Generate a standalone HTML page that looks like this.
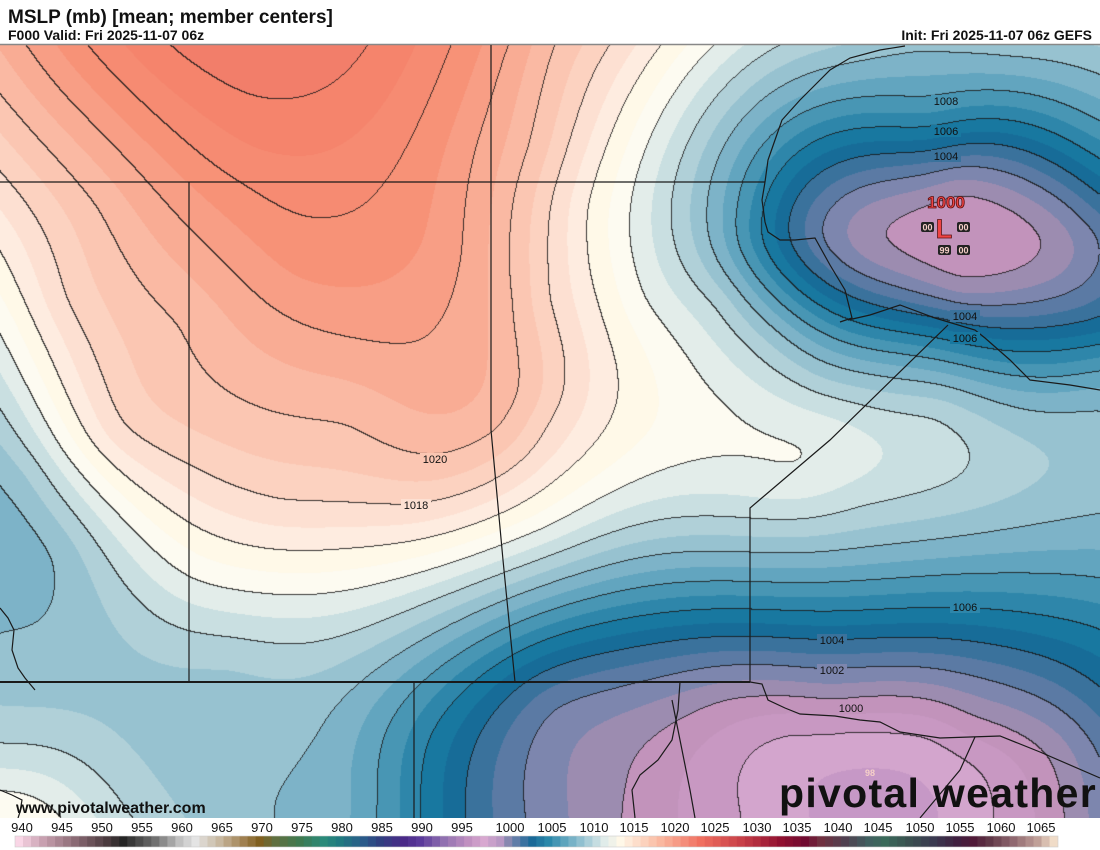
<!DOCTYPE html>
<html><head><meta charset="utf-8">
<style>
html,body{margin:0;padding:0;background:#fff;}
#wrap{position:relative;width:1100px;height:850px;overflow:hidden;background:#fff;font-family:"Liberation Sans",sans-serif;}
#cv{position:absolute;left:0;top:45px;}
#ov{position:absolute;left:0;top:0;}
</style></head><body>
<div id="wrap">
<canvas id="cv" width="1100" height="773"></canvas>
<svg id="ov" width="1100" height="850" xmlns="http://www.w3.org/2000/svg" font-family="Liberation Sans, sans-serif">
<rect x="0" y="0" width="1100" height="44" fill="#fff"/>
<text x="8" y="23" font-size="19" font-weight="bold" fill="#111">MSLP (mb) [mean; member centers]</text>
<text x="8" y="40" font-size="14" font-weight="bold" fill="#111">F000 Valid: Fri 2025-11-07 06z</text>
<text x="1092" y="40" font-size="14" font-weight="bold" fill="#111" text-anchor="end">Init: Fri 2025-11-07 06z GEFS</text>
<line x1="0" y1="44.5" x2="1100" y2="44.5" stroke="#888" stroke-width="1.5"/>
<g fill="none" stroke="#1a1a1a" stroke-width="1.2">
<polyline points="0,182 765,182"/>
<polyline points="189,182 189,682"/>
<polyline points="491,45 491,430 503,560 515,682"/>
<polyline points="0,682 750,682" stroke-width="2"/>
<polyline points="750,682 750,508 830,440 948,325"/>
<polyline points="414,682 414,818"/>
<polyline points="765,182 768,160 775,140 782,120 800,100 815,85 830,70 850,58 880,50 905,46"/>
<polyline points="765,182 762,200 765,222 768,232 780,240 795,240 815,238 830,265 845,290 852,318 840,322"/>
<polyline points="848,320 870,315 900,305 935,318 975,330 985,338 1010,360 1030,380 1070,385 1100,390"/>
<polyline points="750,682 762,684 768,700 785,708 800,714 835,716 860,720 880,722 900,732 940,738 970,737 1000,736 1040,752 1100,778"/>
<polyline points="975,737 960,770 935,800 920,818"/>
<polyline points="680,682 678,710 672,740 658,760 640,775 632,790 635,818"/>
<polyline points="672,700 680,740 690,790 695,818"/>
<polyline points="0,608 8,618 14,630 12,650 18,668 25,678 35,690"/>
<polyline points="0,790 12,795 22,800 20,812 18,818"/>
</g>
<g id="labels" font-size="11" text-anchor="middle" fill="#111">
<g><rect x="931" y="95" width="30" height="12"/><text x="946" y="105">1008</text></g>
<g><rect x="931" y="125" width="30" height="12"/><text x="946" y="135">1006</text></g>
<g><rect x="931" y="150" width="30" height="12"/><text x="946" y="160">1004</text></g>
<g><rect x="950" y="310" width="30" height="12"/><text x="965" y="320">1004</text></g>
<g><rect x="950" y="332" width="30" height="12"/><text x="965" y="342">1006</text></g>
<g><rect x="420" y="453" width="30" height="12"/><text x="435" y="463">1020</text></g>
<g><rect x="401" y="499" width="30" height="12"/><text x="416" y="509">1018</text></g>
<g><rect x="950" y="601" width="30" height="12"/><text x="965" y="611">1006</text></g>
<g><rect x="817" y="634" width="30" height="12"/><text x="832" y="644">1004</text></g>
<g><rect x="817" y="664" width="30" height="12"/><text x="832" y="674">1002</text></g>
<g><rect x="836" y="702" width="30" height="12"/><text x="851" y="712">1000</text></g>
</g>
<g font-weight="bold">
<text x="946" y="208" font-size="17" text-anchor="middle" fill="#ee4444" stroke="#5a1010" stroke-width="0.8">1000</text>
<text x="944" y="238" font-size="27" text-anchor="middle" fill="#ee4444" stroke="#5a1010" stroke-width="0.8">L</text>
<g font-size="9" text-anchor="middle">
<rect x="921" y="222" width="13" height="10" fill="#222" rx="2"/><text x="927.5" y="230.5" fill="#f6d0c8">00</text>
<rect x="957" y="222" width="13" height="10" fill="#222" rx="2"/><text x="963.5" y="230.5" fill="#f6d0c8">00</text>
<rect x="938" y="245" width="13" height="10" fill="#222" rx="2"/><text x="944.5" y="253.5" fill="#f6d0c8">99</text>
<rect x="957" y="245" width="13" height="10" fill="#222" rx="2"/><text x="963.5" y="253.5" fill="#f6d0c8">00</text>
<text x="870" y="776" fill="#f6d0c8">98</text>
</g>
</g>
<text x="16" y="813" font-size="16" font-weight="bold" fill="#111">www.pivotalweather.com</text>
<text x="779" y="807" font-size="41" font-weight="bold" fill="#111" letter-spacing="1.3">pivotal weather</text>
<rect x="0" y="818" width="1100" height="32" fill="#fff"/>
<g id="cbar"></g>
<g font-size="13" fill="#111" text-anchor="middle" id="cbl">
<text x="22" y="832">940</text><text x="62" y="832">945</text><text x="102" y="832">950</text><text x="142" y="832">955</text><text x="182" y="832">960</text><text x="222" y="832">965</text><text x="262" y="832">970</text><text x="302" y="832">975</text><text x="342" y="832">980</text><text x="382" y="832">985</text><text x="422" y="832">990</text><text x="462" y="832">995</text><text x="510" y="832">1000</text><text x="552" y="832">1005</text><text x="594" y="832">1010</text><text x="634" y="832">1015</text><text x="675" y="832">1020</text><text x="715" y="832">1025</text><text x="757" y="832">1030</text><text x="797" y="832">1035</text><text x="838" y="832">1040</text><text x="878" y="832">1045</text><text x="920" y="832">1050</text><text x="960" y="832">1055</text><text x="1001" y="832">1060</text><text x="1041" y="832">1065</text>
</g>
</svg>
</div>
<script>
(function(){
var P=[
[0,45,1021],[25,45,1022],[86,45,1024],[167,45,1026],[260,45,1026.8],[368,45,1026],[451,45,1024],[511,45,1022],[549,45,1020],[611,45,1018],[661,45,1016],[713,45,1014],[778,45,1012],[850,45,1011],[917,45,1010],[1010,50,1010.4],[1100,50,1010.7],[1100,78,1010],
[281,97,1026],[260,70,1026.5],[340,78,1026],[326,212,1024],[246,182,1024],[379,185,1024],[420,120,1024],
[386,343,1022],[189,228,1022],[100,130,1022],[474,145,1022],[432,322,1022],
[400,270,1023],[300,260,1023.5],[250,150,1025],[450,250,1022.5],[350,380,1021],
[351,415,1020],[189,318,1020],[100,205,1020],[0,95,1020],[505,430,1020],[526,395,1020],[533,145,1020],[520,300,1020],[435,458,1020],
[0,172,1018],[60,300,1018],[116,430,1018],[189,463,1018],[281,502,1018],[416,505,1018],[500,475,1018],[540,420,1018],[540,300,1018],[550,205,1018],
[0,248,1016],[60,380,1016],[189,523,1016],[351,547,1016],[550,482,1016],[603,430,1016],[600,300,1016],[585,205,1016],
[0,327,1014],[60,450,1014],[189,580,1014],[351,590,1014],[550,527,1014],[796,477,1014],[830,440,1014],[700,380,1014],[640,300,1014],[631,205,1014],
[0,405,1012],[189,632,1012],[550,555,1012],[859,502,1012],[900,497,1012],[971,455,1012],[940,410,1012],[720,300,1012],[671,205,1012],
[900,455,1012.8],[820,380,1011],[30,470,1011],
[0,490,1010],[60,555,1010],[0,612,1010],[25,555,1009.4],[323,740,1010],[253,815,1010],[550,583,1010],[900,543,1010],[1100,512,1010],[1100,403,1010],[900,380,1010],[780,330,1010],[708,205,1010],
[150,700,1010.6],[230,660,1011],[120,760,1011.3],[0,660,1010.3],
[382,740,1008],[550,610,1008],[900,578,1008],[1100,578,1008],[1100,365,1008],[900,352,1008],[741,205,1008],[927,102,1008],[1100,123,1008],
[426,740,1006],[550,638,1006],[965,607,1006],[1100,627,1006],[758,240,1006],[927,130,1006],[940,337,1006],[1100,162,1006],[1100,345,1006],
[477,740,1004],[550,668,1004],[832,640,1004],[1100,690,1004],[787,237,1004],[927,156,1004],[945,314,1004],[1100,200,1004],[1100,322,1004],
[550,703,1002],[818,670,1002],[1100,760,1002],[817,237,1002],[940,170,1002],[950,302,1002],[1100,237,1001.8],
[866,237,1000],[1050,237,1000],[958,183,1000],[958,290,1000],[958,237,999.3],
[632,787,1000],[673,723,1000],[726,697,1000],[838,707,1000],[971,723,1000],[1052,750,1000],[1069,815,1000],
[753,815,998],[757,745,998],[790,727,998],[850,722,998],[930,730,998],[983,763,998],[987,815,998],[870,800,996.8],
[570,790,1001],[1100,815,1001.8],
[0,707,1011],[0,753,1012],[0,785,1014],[30,815,1015],[126,815,1012],[350,815,1009.3],[420,815,1006],[477,815,1003.5]
];
var S=100,n=P.length,N=n+3,lam=0.3,i,j,k;
function U(r){return r>0?r*r*Math.log(r):0;}
var A=[];
for(i=0;i<N;i++){A.push(new Float64Array(N+1));}
for(i=0;i<n;i++){
 for(j=0;j<n;j++){var dx=(P[i][0]-P[j][0])/S,dy=(P[i][1]-P[j][1])/S;A[i][j]=U(Math.sqrt(dx*dx+dy*dy))+(i==j?lam:0);}
 A[i][n]=1;A[i][n+1]=P[i][0]/S;A[i][n+2]=P[i][1]/S;
 A[n][i]=1;A[n+1][i]=P[i][0]/S;A[n+2][i]=P[i][1]/S;
 A[i][N]=P[i][2];
}
for(k=0;k<N;k++){var m=k,mv=Math.abs(A[k][k]);for(i=k+1;i<N;i++){if(Math.abs(A[i][k])>mv){mv=Math.abs(A[i][k]);m=i;}}
 var t=A[k];A[k]=A[m];A[m]=t;
 for(i=k+1;i<N;i++){var f=A[i][k]/A[k][k];if(f!==0){for(j=k;j<=N;j++)A[i][j]-=f*A[k][j];}}}
var w=new Float64Array(N);
for(i=N-1;i>=0;i--){var s=A[i][N];for(j=i+1;j<N;j++)s-=A[i][j]*w[j];w[i]=s/A[i][i];}
function F(x,y){var s=w[n]+w[n+1]*x/S+w[n+2]*y/S;for(var q=0;q<n;q++){var dx=(x-P[q][0])/S,dy=(y-P[q][1])/S;var r2=dx*dx+dy*dy;if(r2>0)s+=w[q]*0.5*r2*Math.log(r2);}return s;}
var pal={995:"#b88ac0",996:"#c698c6",997:"#d3a5cd",998:"#c898c2",999:"#c293bb",1000:"#9c8cb0",1001:"#7d86ae",1002:"#5b7aa4",1003:"#3a729c",1004:"#176c98",1005:"#1878a0",1006:"#2e86aa",1007:"#4896b4",1008:"#62a5bf",1009:"#7db3c8",1010:"#97c2d0",1011:"#b0d0d8",1012:"#c9dfe1",1013:"#e3edea",1014:"#fdfbf1",1015:"#fff9e8",1016:"#feece0",1017:"#fde0d2",1018:"#fcd2c0",1019:"#fbc6b2",1020:"#fab9a3",1021:"#f9ac94",1022:"#f89e85",1023:"#f79277",1024:"#f68b72",1025:"#f5846c",1026:"#f27e6a"};
function col(v){var b=Math.floor(v);if(b<995)b=995;if(b>1026)b=1026;return pal[b];}
function rgb(h){return [parseInt(h.substr(1,2),16),parseInt(h.substr(3,2),16),parseInt(h.substr(5,2),16)];}
var prgb={};for(var key in pal)prgb[key]=rgb(pal[key]);
var W=1100,H=773,st=4,gx=Math.ceil(W/st)+2,gy=Math.ceil(H/st)+2;
var G=new Float64Array(gx*gy);
for(j=0;j<gy;j++)for(i=0;i<gx;i++)G[j*gx+i]=F(i*st,45+j*st);
var V=new Float32Array(W*H);
for(var y=0;y<H;y++){var fy=y/st,j0=Math.floor(fy),ty=fy-j0;
 for(var x=0;x<W;x++){var fx=x/st,i0=Math.floor(fx),tx=fx-i0;
  var a=G[j0*gx+i0],b=G[j0*gx+i0+1],c=G[(j0+1)*gx+i0],d=G[(j0+1)*gx+i0+1];
  V[y*W+x]=(a*(1-tx)+b*tx)*(1-ty)+(c*(1-tx)+d*tx)*ty;}}
var cv=document.getElementById('cv'),ctx=cv.getContext('2d'),img=ctx.createImageData(W,H),D=img.data;
for(var p=0;p<W*H;p++){var v=V[p],bb=Math.floor(v);if(bb<995)bb=995;if(bb>1026)bb=1026;var cc=prgb[bb];
 var x2=p%W,y2=(p-x2)/W,kk=Math.floor(v/2),line=false;
 if(x2<W-1&&Math.floor(V[p+1]/2)!=kk)line=true;
 if(y2<H-1&&Math.floor(V[p+W]/2)!=kk)line=true;
 var o=p*4;
 if(line){D[o]=cc[0]*0.15+20;D[o+1]=cc[1]*0.15+20;D[o+2]=cc[2]*0.15+20;}
 else{D[o]=cc[0];D[o+1]=cc[1];D[o+2]=cc[2];}
 D[o+3]=255;}
ctx.putImageData(img,0,0);
var rects=document.querySelectorAll('#labels rect');
for(i=0;i<rects.length;i++){var r=rects[i];var lx=+r.getAttribute('x')+15,ly=+r.getAttribute('y')+6;
 var vv=V[Math.min(H-1,Math.max(0,Math.round(ly-45)))*W+Math.round(lx)];r.setAttribute('fill',col(vv));}
var stops=[[940,"#f9d6e6"],[943,"#c8a0b0"],[947,"#8a6a74"],[951,"#4a3a3e"],[953,"#252525"],[957,"#707070"],[960,"#c0c0c0"],[962,"#e4e4e4"],[965,"#c8b8a0"],[968,"#a08050"],[970,"#806020"],[972,"#607040"],[975,"#3e7a50"],[978,"#2a8a7a"],[980,"#207a80"],[983,"#2a5a8a"],[985,"#304080"],[988,"#4a2a88"],[990,"#5a3a9a"],[993,"#9070b0"],[996,"#c090c0"],[998,"#d8a8d0"],[1000,"#b898c4"],[1001,"#8888b0"],[1003,"#3a72a0"],[1004,"#1a6a98"],[1006,"#2a88aa"],[1010,"#90c0d0"],[1013,"#e0ecea"],[1015,"#fff8e8"],[1020,"#fab8a0"],[1025,"#f07060"],[1030,"#c84048"],[1035,"#901030"],[1038,"#700a30"],[1040,"#703040"],[1043,"#504050"],[1046,"#406060"],[1048,"#3a6a5a"],[1051,"#3a5050"],[1054,"#3a3a50"],[1057,"#402040"],[1059,"#501a38"],[1061,"#603848"],[1064,"#906870"],[1067,"#c0a098"],[1069,"#f0dcc8"]];
function sc(v){for(var q=0;q<stops.length-1;q++){if(v>=stops[q][0]&&v<=stops[q+1][0]){var t=(v-stops[q][0])/(stops[q+1][0]-stops[q][0]);var a=rgb(stops[q][1]),b=rgb(stops[q+1][1]);return "rgb("+Math.round(a[0]+(b[0]-a[0])*t)+","+Math.round(a[1]+(b[1]-a[1])*t)+","+Math.round(a[2]+(b[2]-a[2])*t)+")";}}return stops[stops.length-1][1];}
var g=document.getElementById('cbar'),ns="http://www.w3.org/2000/svg";
for(i=0;i<130;i++){var re=document.createElementNS(ns,'rect');re.setAttribute('x',15+i*8.02);re.setAttribute('y',836);re.setAttribute('width',8.4);re.setAttribute('height',11);re.setAttribute('fill',sc(940+i));g.appendChild(re);}
var fr=document.createElementNS(ns,'rect');fr.setAttribute('x',15);fr.setAttribute('y',836);fr.setAttribute('width',1043);fr.setAttribute('height',11);fr.setAttribute('fill','none');fr.setAttribute('stroke','#ccc');fr.setAttribute('stroke-width','0.6');g.appendChild(fr);
})();
</script>
</body></html>
